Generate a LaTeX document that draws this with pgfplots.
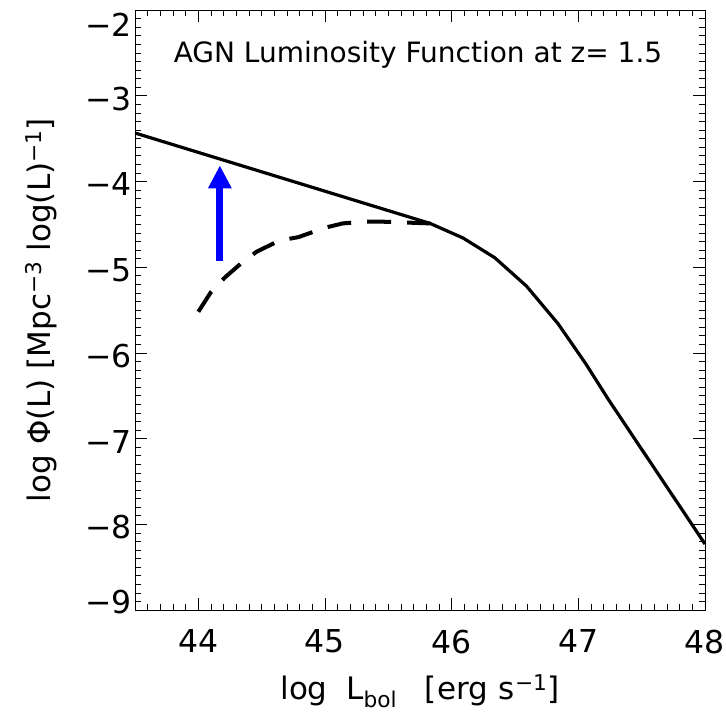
\documentclass[border=0pt]{standalone}
\usepackage{fontspec}
\setmainfont{DejaVu Sans}
\usepackage{pgfplots}
\pgfplotsset{compat=1.18}
\usetikzlibrary{arrows.meta}
\begin{document}
\begin{tikzpicture}
\useasboundingbox (-135bp,-102bp) rectangle (591bp,610bp);
\begin{axis}[
  at={(0,0)}, anchor=south west,
  width=570bp, height=600bp, scale only axis,
  xmin=43.5, xmax=48, ymin=-9, ymax=-2,
  xtick={44,45,46,47,48}, xticklabels={44,45,46,47,48},
  ytick={-9,-8,-7,-6,-5,-4,-3,-2}, yticklabels={,−8,−7,−6,−5,−4,−3,},
  extra y ticks={-8.877,-2.132}, extra y tick labels={−9,−2},
  extra y tick style={major tick length=0pt},
  minor xtick={43.6,43.7,...,47.95},
  minor ytick={-8.9,-8.8,...,-2.05},
  tick align=inside, tick pos=both,
  major tick length=12bp, minor tick length=6bp,
  axis line style={line width=0.8bp},
  every tick/.style={black, line width=0.7bp},
  ticklabel style={font=\fontsize{31.5bp}{36bp}\selectfont},
  xticklabel style={yshift=-16.5bp},
  yticklabel style={yshift=-3bp},
  label style={font=\fontsize{31bp}{36bp}\selectfont},
  xlabel={log\hspace{0.6em}L\textsubscript{bol}\hspace{0.9em}[erg\hspace{0.35em}s\textsuperscript{−1}]},
  ylabel={log Φ(L) [Mpc\textsuperscript{−3} log(L)\textsuperscript{−1}]},
  xlabel style={at={(axis description cs:0.5,-0.149)}, anchor=base},
  ylabel style={at={(axis description cs:-0.149,0.5)}, anchor=base},
]
\addplot[black, line width=3.2bp, line join=round] coordinates {
  (43.5,-3.435) (45.83,-4.49) (46.09,-4.66) (46.34,-4.89) (46.59,-5.22)
  (46.84,-5.66) (47.06,-6.13) (47.24,-6.55) (48.0,-8.23)
};
\addplot[black, line width=4bp, line join=round, dash pattern=on 24bp off 16bp] coordinates {
  (44.0,-5.52) (44.1,-5.29) (44.21,-5.12) (44.35,-4.94) (44.46,-4.82)
  (44.64,-4.69) (44.79,-4.65) (45.0,-4.54) (45.14,-4.49) (45.30,-4.47)
  (45.46,-4.47) (45.83,-4.49)
};
\addplot[blue, line width=7bp, -{Triangle[width=22bp,length=23bp]}] coordinates {
  (44.17,-4.929) (44.17,-3.812)
};
\node[anchor=base, font=\fontsize{28bp}{32bp}\selectfont] at (axis description cs:0.4965,0.9117) {AGN Luminosity Function at z= 1.5};
\end{axis}
\end{tikzpicture}
\end{document}
